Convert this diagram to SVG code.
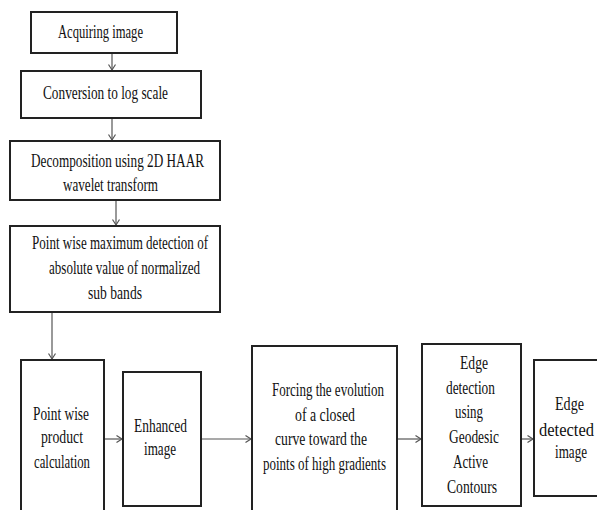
<svg xmlns="http://www.w3.org/2000/svg" width="597" height="510" viewBox="0 0 597 510">
<style>
.box{fill:#fff;stroke:#222;stroke-width:2}
.t{font-size:18px;fill:#111}
.c{stroke:#555;stroke-width:1.2;fill:none;marker-end:url(#ar)}
</style>
<defs>
<marker id="ar" markerWidth="8" markerHeight="8" refX="6.5" refY="4" orient="auto" markerUnits="userSpaceOnUse">
<path d="M1,0.5 L6.5,4 L1,7.5" fill="none" stroke="#555" stroke-width="1.2"/>
</marker>
</defs>
<rect width="597" height="510" fill="#fff"/>
<g id="connectors">
<line class="c" x1="112" y1="53" x2="112" y2="70"/>
<line class="c" x1="112" y1="118" x2="112" y2="140"/>
<line class="c" x1="116" y1="200" x2="116" y2="225"/>
<line class="c" x1="52" y1="312" x2="52" y2="359"/>
<line class="c" x1="104" y1="439" x2="122" y2="439"/>
<line class="c" x1="201" y1="439" x2="251" y2="439"/>
<line class="c" x1="397" y1="439" x2="421" y2="439"/>
<line class="c" x1="521" y1="439" x2="533" y2="439"/>
</g>
<g font-family="Liberation Serif, Times New Roman, serif">
<g id="n1">
<rect class="box" x="31" y="12" width="146" height="41"/>
<text class="t" x="58" y="38" textLength="85" lengthAdjust="spacingAndGlyphs">Acquiring image</text>
</g>
<g id="n2">
<rect class="box" x="21" y="71" width="180" height="47"/>
<text class="t" x="43" y="99" textLength="125" lengthAdjust="spacingAndGlyphs">Conversion to log scale</text>
</g>
<g id="n3">
<rect class="box" x="10" y="141" width="210" height="59"/>
<text class="t" x="31" y="167" textLength="173" lengthAdjust="spacingAndGlyphs">Decomposition using 2D HAAR</text>
<text class="t" x="63" y="191" textLength="95" lengthAdjust="spacingAndGlyphs">wavelet transform</text>
</g>
<g id="n4">
<rect class="box" x="10" y="226" width="210" height="86"/>
<text class="t" x="32" y="249" textLength="176" lengthAdjust="spacingAndGlyphs">Point wise maximum detection of</text>
<text class="t" x="49" y="274" textLength="151" lengthAdjust="spacingAndGlyphs">absolute value of normalized</text>
<text class="t" x="88" y="299" textLength="54" lengthAdjust="spacingAndGlyphs">sub bands</text>
</g>
<g id="n5">
<rect class="box" x="21" y="360" width="83" height="160"/>
<text class="t" x="33" y="420" textLength="56" lengthAdjust="spacingAndGlyphs">Point wise</text>
<text class="t" x="41" y="443" textLength="42" lengthAdjust="spacingAndGlyphs">product</text>
<text class="t" x="34" y="468" textLength="56" lengthAdjust="spacingAndGlyphs">calculation</text>
</g>
<g id="n6">
<rect class="box" x="123" y="372" width="78" height="134"/>
<text class="t" x="134" y="432" textLength="53" lengthAdjust="spacingAndGlyphs">Enhanced</text>
<text class="t" x="144" y="455" textLength="32" lengthAdjust="spacingAndGlyphs">image</text>
</g>
<g id="n7">
<rect class="box" x="252" y="346" width="145" height="174"/>
<text class="t" x="272" y="396" textLength="112" lengthAdjust="spacingAndGlyphs">Forcing the evolution</text>
<text class="t" x="295" y="421" textLength="60" lengthAdjust="spacingAndGlyphs">of a closed</text>
<text class="t" x="275" y="445" textLength="92" lengthAdjust="spacingAndGlyphs">curve toward the</text>
<text class="t" x="263" y="470" textLength="123" lengthAdjust="spacingAndGlyphs">points of high gradients</text>
</g>
<g id="n8">
<rect class="box" x="422" y="344" width="99" height="162"/>
<text class="t" x="460" y="369" textLength="28" lengthAdjust="spacingAndGlyphs">Edge</text>
<text class="t" x="446" y="394" textLength="49" lengthAdjust="spacingAndGlyphs">detection</text>
<text class="t" x="455" y="418" textLength="28" lengthAdjust="spacingAndGlyphs">using</text>
<text class="t" x="449" y="443" textLength="50" lengthAdjust="spacingAndGlyphs">Geodesic</text>
<text class="t" x="453" y="468" textLength="35" lengthAdjust="spacingAndGlyphs">Active</text>
<text class="t" x="447" y="493" textLength="50" lengthAdjust="spacingAndGlyphs">Contours</text>
</g>
<g id="n9">
<rect class="box" x="534" y="360" width="70" height="136"/>
<text class="t" x="555" y="410" textLength="29" lengthAdjust="spacingAndGlyphs">Edge</text>
<text class="t" x="539" y="436" textLength="55" lengthAdjust="spacingAndGlyphs">detected</text>
<text class="t" x="555" y="458" textLength="32" lengthAdjust="spacingAndGlyphs">image</text>
</g>
</g>
</svg>
